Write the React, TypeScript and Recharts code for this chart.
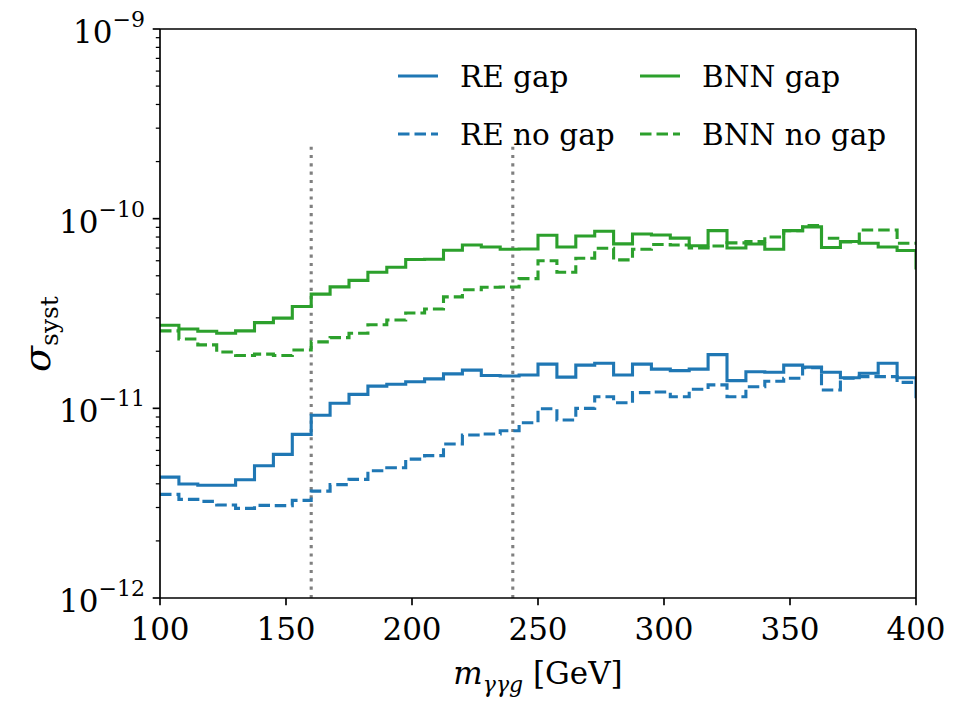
import { LineChart, Line, XAxis, YAxis, ReferenceLine, Customized } from "recharts";

// 7.5 GeV bins from 100 to 400
const binEdges = [
  100, 107.5, 115, 122.5, 130, 137.5, 145, 152.5, 160, 167.5,
  175, 182.5, 190, 197.5, 205, 212.5, 220, 227.5, 235, 242.5,
  250, 257.5, 265, 272.5, 280, 287.5, 295, 302.5, 310, 317.5,
  325, 332.5, 340, 347.5, 355, 362.5, 370, 377.5, 385, 392.5, 400,
];

const reGap = [
  4.34e-12, 3.99e-12, 3.93e-12, 3.93e-12, 4.2e-12, 4.98e-12, 5.72e-12, 7.29e-12, 9.19e-12, 1.063e-11,
  1.185e-11, 1.31e-11, 1.34e-11, 1.38e-11, 1.43e-11, 1.52e-11, 1.59e-11, 1.49e-11, 1.48e-11, 1.5e-11,
  1.71e-11, 1.46e-11, 1.69e-11, 1.73e-11, 1.5e-11, 1.71e-11, 1.61e-11, 1.58e-11, 1.61e-11, 1.92e-11,
  1.4e-11, 1.56e-11, 1.55e-11, 1.69e-11, 1.65e-11, 1.55e-11, 1.45e-11, 1.53e-11, 1.73e-11, 1.45e-11,
];
const reNoGap = [
  3.52e-12, 3.31e-12, 3.23e-12, 3.09e-12, 2.97e-12, 3.08e-12, 3.07e-12, 3.27e-12, 3.66e-12, 3.96e-12,
  4.22e-12, 4.69e-12, 4.86e-12, 5.4e-12, 5.63e-12, 6.48e-12, 7.23e-12, 7.32e-12, 7.62e-12, 8.4e-12,
  9.95e-12, 8.68e-12, 1.0e-11, 1.15e-11, 1.07e-11, 1.21e-11, 1.22e-11, 1.15e-11, 1.26e-11, 1.33e-11,
  1.15e-11, 1.3e-11, 1.39e-11, 1.44e-11, 1.64e-11, 1.25e-11, 1.44e-11, 1.47e-11, 1.47e-11, 1.37e-11,
];
const bnnGap = [
  2.74e-11, 2.62e-11, 2.55e-11, 2.49e-11, 2.56e-11, 2.83e-11, 2.99e-11, 3.44e-11, 4.0e-11, 4.37e-11,
  4.73e-11, 5.22e-11, 5.54e-11, 6.09e-11, 6.11e-11, 6.82e-11, 7.27e-11, 7.09e-11, 6.9e-11, 6.92e-11,
  8.18e-11, 7.09e-11, 8.1e-11, 8.58e-11, 7.36e-11, 8.3e-11, 8.2e-11, 7.9e-11, 7.2e-11, 8.65e-11,
  7.0e-11, 7.35e-11, 6.9e-11, 8.65e-11, 9.05e-11, 7.05e-11, 7.58e-11, 7.42e-11, 7.09e-11, 6.8e-11,
];
const bnnNoGap = [
  2.56e-11, 2.32e-11, 2.16e-11, 1.98e-11, 1.9e-11, 1.93e-11, 1.9e-11, 2.03e-11, 2.24e-11, 2.36e-11,
  2.49e-11, 2.76e-11, 2.92e-11, 3.18e-11, 3.34e-11, 3.87e-11, 4.22e-11, 4.35e-11, 4.36e-11, 4.83e-11,
  6.0e-11, 5.22e-11, 6.18e-11, 6.98e-11, 6.06e-11, 6.9e-11, 7.31e-11, 7.27e-11, 7.0e-11, 7.18e-11,
  7.45e-11, 7.58e-11, 8.0e-11, 8.64e-11, 9.2e-11, 7.88e-11, 7.54e-11, 8.72e-11, 8.72e-11, 7.42e-11,
];

// next bin past the x range, only its edge shows at 400
const reGapTail = 1.13e-11;
const bnnGapTail = 5.4e-11;

const xTicks = [100, 150, 200, 250, 300, 350, 400];
const yTicks = [
  1e-12, 2e-12, 3e-12, 4e-12, 5e-12, 6e-12, 7e-12, 8e-12, 9e-12,
  1e-11, 2e-11, 3e-11, 4e-11, 5e-11, 6e-11, 7e-11, 8e-11, 9e-11,
  1e-10, 2e-10, 3e-10, 4e-10, 5e-10, 6e-10, 7e-10, 8e-10, 9e-10,
  1e-9,
];
const windowEdges = [160, 240];
const windowTop = 2.5e-10;

const BLUE = "#1f77b4";
const GREEN = "#2ca02c";
const FONT = "DejaVu Serif";
const DASH = "11.5 5";

const rows = binEdges.map((x, i) => ({
  x,
  reGap: i < reGap.length ? reGap[i] : reGapTail,
  reNoGap: i < reNoGap.length ? reNoGap[i] : reNoGap[reNoGap.length - 1],
  bnnGap: i < bnnGap.length ? bnnGap[i] : bnnGapTail,
  bnnNoGap: i < bnnNoGap.length ? bnnNoGap[i] : bnnNoGap[bnnNoGap.length - 1],
}));

const legendItems = [
  { label: "RE gap", color: BLUE, dashed: false },
  { label: "RE no gap", color: BLUE, dashed: true },
  { label: "BNN gap", color: GREEN, dashed: false },
  { label: "BNN no gap", color: GREEN, dashed: true },
];

function XTick({ x, y, payload }: any) {
  return (
    <g>
      <line x1={x} x2={x} y1={y} y2={y + 7.3} stroke="#000" strokeWidth={1.67} />
      <text x={x} y={y + 42} textAnchor="middle" fontFamily={FONT} fontSize={31} fill="#000">
        {payload.value}
      </text>
    </g>
  );
}

function YTick({ x, y, payload }: any) {
  const p = Math.log10(payload.value);
  const major = Math.abs(p - Math.round(p)) < 1e-6;
  if (!major) {
    return <line x1={x - 4.2} x2={x} y1={y} y2={y} stroke="#000" strokeWidth={1.25} />;
  }
  return (
    <g>
      <line x1={x - 7.3} x2={x} y1={y} y2={y} stroke="#000" strokeWidth={1.67} />
      <text x={x - 15} y={y + 14} textAnchor="end" fontFamily={FONT} fontSize={31} fill="#000">
        10
        <tspan dy={-16} fontSize={22}>
          {"\u2212" + -Math.round(p)}
        </tspan>
      </text>
    </g>
  );
}

function Decorations() {
  return (
    <g fontFamily={FONT} fill="#000">
      {legendItems.map((item, i) => {
        const col = Math.floor(i / 2);
        const row = i % 2;
        const lx = 398 + col * 242;
        const ly = 76 + row * 58;
        return (
          <g key={item.label}>
            <line
              x1={lx}
              x2={lx + 40}
              y1={ly}
              y2={ly}
              stroke={item.color}
              strokeWidth={3.1}
              strokeDasharray={item.dashed ? DASH : undefined}
            />
            <text x={lx + 62} y={ly + 11} fontSize={29.5}>
              {item.label}
            </text>
          </g>
        );
      })}
      <text x={538} y={684} textAnchor="middle" fontSize={31}>
        <tspan fontStyle="italic">m</tspan>
        <tspan fontStyle="italic" fontSize={22} dy={8}>
          γγg
        </tspan>
        <tspan dy={-8}> [GeV]</tspan>
      </text>
      <text transform="translate(50,334) rotate(-90)" textAnchor="middle" fontSize={38}>
        <tspan fontStyle="italic">σ</tspan>
        <tspan fontSize={25} dy={8}>
          syst
        </tspan>
      </text>
    </g>
  );
}

export default function App() {
  return (
    <div style={{ position: "absolute", left: 0, top: 0, width: 960, height: 720, background: "#fff" }}>
      <LineChart width={960} height={720} data={rows} margin={{ top: 29, right: 44, bottom: 62, left: 10 }}>
        <XAxis
          dataKey="x"
          type="number"
          domain={[100, 400]}
          ticks={xTicks}
          interval={0}
          height={60}
          tickSize={0}
          tickMargin={0}
          tickLine={false}
          axisLine={{ stroke: "#000", strokeWidth: 1.67 }}
          tick={(props: any) => <XTick {...props} />}
          allowDataOverflow
        />
        <YAxis
          type="number"
          scale="log"
          domain={[1e-12, 1e-9]}
          ticks={yTicks}
          interval={0}
          width={150}
          tickSize={0}
          tickMargin={0}
          tickLine={false}
          axisLine={{ stroke: "#000", strokeWidth: 1.67 }}
          tick={(props: any) => <YTick {...props} />}
          allowDataOverflow
        />
        {windowEdges.map((edge) => (
          <ReferenceLine
            key={edge}
            segment={[
              { x: edge, y: 1e-12 },
              { x: edge, y: windowTop },
            ]}
            stroke="#808080"
            strokeWidth={3.1}
            strokeDasharray="3.1 5.2"
          />
        ))}
        <Line type="stepAfter" dataKey="reGap" stroke={BLUE} strokeWidth={3.1} dot={false} activeDot={false} isAnimationActive={false} />
        <Line type="stepAfter" dataKey="reNoGap" stroke={BLUE} strokeWidth={3.1} strokeDasharray={DASH} dot={false} activeDot={false} isAnimationActive={false} />
        <Line type="stepAfter" dataKey="bnnGap" stroke={GREEN} strokeWidth={3.1} dot={false} activeDot={false} isAnimationActive={false} />
        <Line type="stepAfter" dataKey="bnnNoGap" stroke={GREEN} strokeWidth={3.1} strokeDasharray={DASH} dot={false} activeDot={false} isAnimationActive={false} />
        <ReferenceLine x={400} stroke="#000" strokeWidth={1.67} />
        <ReferenceLine y={1e-9} stroke="#000" strokeWidth={1.67} />
        <Customized component={Decorations} />
      </LineChart>
    </div>
  );
}
